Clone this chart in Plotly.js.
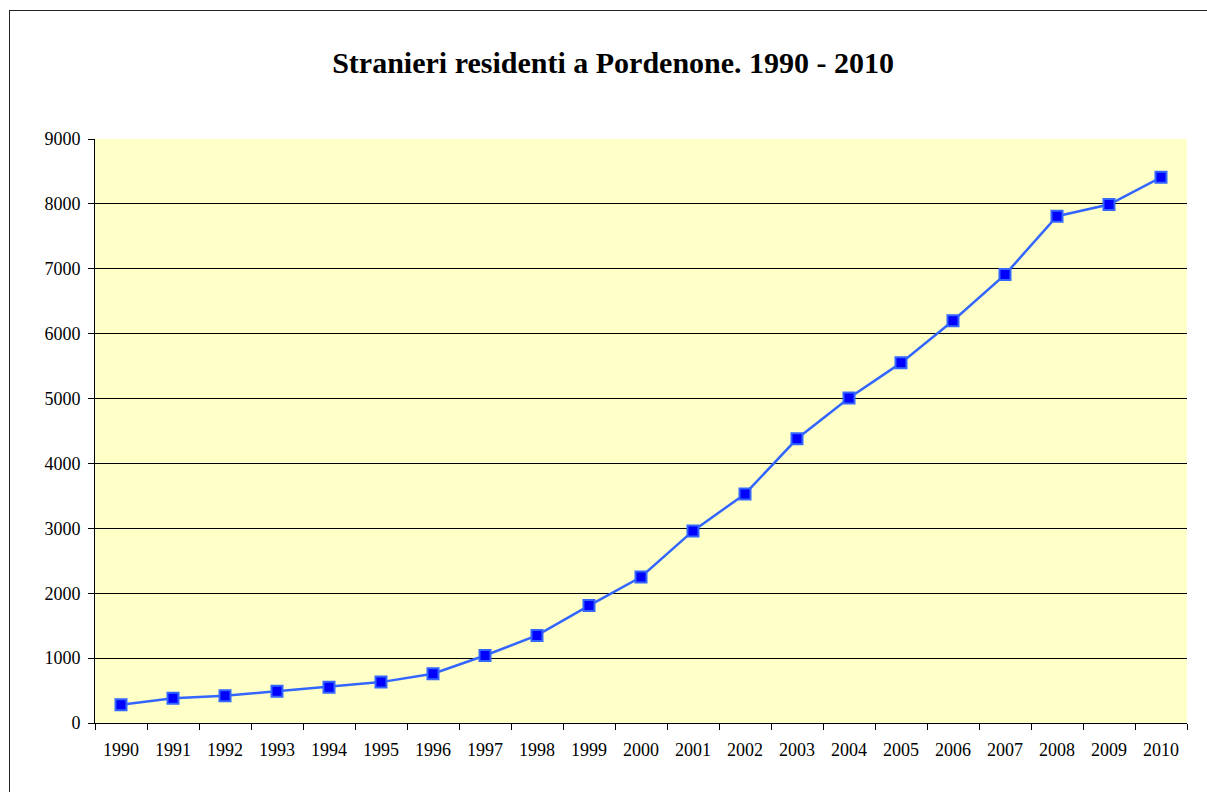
<!DOCTYPE html>
<html>
<head>
<meta charset="utf-8">
<script src="https://cdn.plot.ly/plotly-3.0.1.min.js"></script>
<style>
  html, body { margin: 0; padding: 0; background: #fff; overflow: hidden; }
  #frame { position: absolute; left: 9px; top: 10px; width: 1198px; height: 782px;
           border-left: 1.5px solid #222; border-top: 1.5px solid #222; box-sizing: border-box; }
  #chart { position: absolute; left: 0; top: 0; width: 1207px; height: 792px; }
</style>
</head>
<body>
<div id="frame"></div>
<div id="chart"></div>
<script>
// Stranieri residenti a Pordenone, 1990 - 2010
let anni = ["1990", "1991", "1992", "1993", "1994", "1995", "1996", "1997",
            "1998", "1999", "2000", "2001", "2002", "2003", "2004", "2005",
            "2006", "2007", "2008", "2009", "2010"];
let residenti = [280, 380, 420, 490, 550, 630, 760, 1040, 1350, 1810, 2250,
                 2960, 3530, 4380, 5010, 5550, 6200, 6910, 7810, 7990, 8410];
let yTicks = [0, 1000, 2000, 3000, 4000, 5000, 6000, 7000, 8000, 9000];

let serie = {
  x: anni,
  y: residenti,
  type: "scatter",
  mode: "lines+markers",
  line: {color: "#3366FF", width: 2.5},
  marker: {
    symbol: "square",
    size: 11,
    color: "#0000FF",
    line: {color: "#3366FF", width: 2}
  },
  hoverinfo: "x+y"
};

let layout = {
  width: 1207,
  height: 792,
  margin: {l: 95, r: 20, t: 139, b: 69},
  paper_bgcolor: "rgba(0,0,0,0)",
  plot_bgcolor: "#FFFFC8",
  showlegend: false,
  font: {family: "Liberation Serif, Times New Roman, serif", color: "#000"},
  title: {
    text: "<b>Stranieri residenti a Pordenone. 1990 - 2010</b>",
    font: {size: 30, family: "Liberation Serif, Times New Roman, serif", color: "#000"},
    x: 0.508,
    xanchor: "center",
    y: 1 - 62 / 792,
    yanchor: "middle"
  },
  xaxis: {
    type: "category",
    range: [-0.5, 20.5],
    showgrid: false,
    showline: true,
    linecolor: "#000",
    linewidth: 1,
    ticks: "outside",
    tickson: "boundaries",
    ticklen: 6,
    tickcolor: "#000",
    ticklabelstandoff: 10,
    tickfont: {size: 18},
    zeroline: false
  },
  yaxis: {
    range: [0, 9000],
    tickvals: yTicks,
    showgrid: true,
    gridcolor: "#000",
    gridwidth: 1,
    showline: true,
    linecolor: "#000",
    linewidth: 1,
    ticks: "outside",
    ticklen: 6,
    tickcolor: "#000",
    ticklabelstandoff: 4,
    tickfont: {size: 18},
    zeroline: false
  }
};

Plotly.newPlot("chart", [serie], layout, {displayModeBar: false});
</script>
</body>
</html>
